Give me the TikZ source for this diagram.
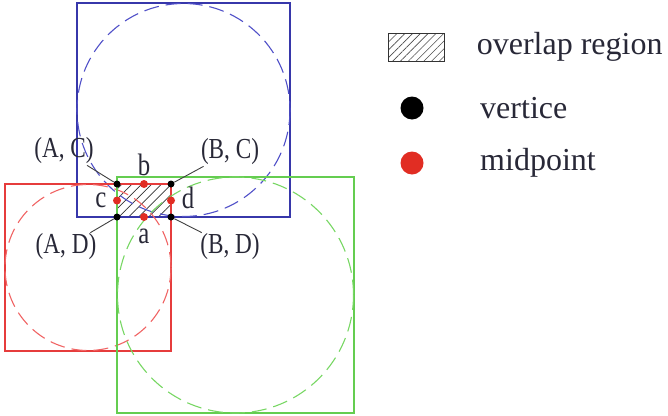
\documentclass[tikz,border=0pt]{standalone}
\usepackage{fontspec}
\setmainfont{Liberation Serif}
\newfontfamily\lblfont{Liberation Serif}[FakeStretch=0.8]
\usetikzlibrary{positioning,patterns.meta}
\definecolor{sqblue}{RGB}{55,55,170}
\definecolor{ringblue}{RGB}{80,80,200}
\definecolor{sqred}{RGB}{230,60,60}
\definecolor{ringred}{RGB}{240,100,100}
\definecolor{sqgreen}{RGB}{100,205,80}
\definecolor{ringgreen}{RGB}{120,215,100}
\definecolor{ptred}{RGB}{225,45,35}
\definecolor{lbltext}{RGB}{40,40,55}

\begin{document}
\begin{tikzpicture}[
    x=1pt, y=-1pt,
    frame/.style={line width=1.1pt},
    ring/.style={line width=1.1pt, dash pattern=on 15pt off 7pt},
    hatch/.style={
        pattern={Lines[angle=45, distance=7pt, line width=0.7pt]},
        pattern color=black!80
    },
    vertex/.style={
        circle,
        fill=black,
        inner sep=0pt,
        minimum size=7pt
    },
    midpt/.style={
        circle,
        fill=ptred,
        inner sep=0pt,
        minimum size=8pt
    },
    pairlbl/.style={font=\lblfont\fontsize{29}{31}\selectfont, text=lbltext, inner sep=1pt},
    ptlbl/.style={font=\lblfont\fontsize{31}{33}\selectfont, text=lbltext, inner sep=1pt},
    leader/.style={draw=black!75, line width=0.9pt},
    legtext/.style={font=\fontsize{32}{34}\selectfont, text=lbltext}
]
\useasboundingbox (0,0) rectangle (668,415);

% overlap region
\fill[hatch] (117,184) rectangle (171,217);

% squares and inscribed circles
\draw[frame, sqblue] (77,3) rectangle (290,217);
\draw[ring, ringblue] (183.5,110) circle[radius=106.5];
\draw[frame, sqred] (5,184) rectangle (171,351);
\draw[ring, ringred] (88,267.5) circle[radius=83];
\draw[frame, sqgreen] (117,177) rectangle (354,413);
\draw[ring, ringgreen] (235.5,295) circle[radius=118];

% vertices and midpoints
\node[vertex] (AC) at (117,184) {};
\node[vertex] (BC) at (171,184) {};
\node[vertex] (AD) at (117,217) {};
\node[vertex] (BD) at (171,217) {};
\node[midpt] (ma) at (144,217) {};
\node[midpt] (mb) at (144,184) {};
\node[midpt] (mc) at (117,200.5) {};
\node[midpt] (md) at (171,200.5) {};

\node[ptlbl] (la) at (144,236) {a};
\node[ptlbl] (lb) at (144,165) {b};
\node[ptlbl] (lc) at (101,200) {c};
\node[ptlbl] (ld) at (188,198) {d};

\node[pairlbl] (lAC) at (64,151) {(A, C)};
\node[pairlbl] (lBC) at (230,152) {(B, C)};
\node[pairlbl] (lAD) at (66,247) {(A, D)};
\node[pairlbl] (lBD) at (230,247) {(B, D)};

\draw[leader] (AC) -- (lAC);
\draw[leader] (BC) -- (lBC);
\draw[leader] (AD) -- (lAD);
\draw[leader] (BD) -- (lBD);

% legend
\node[draw=black!80, line width=0.8pt, inner sep=0pt,
      pattern={Lines[angle=45, distance=5.5pt, line width=0.6pt]}, pattern color=black!70,
      minimum width=56pt, minimum height=28pt] (legbox) at (416,47) {};
\node[legtext, right=29pt of legbox] (legboxtxt) {overlap region};
\node[vertex, minimum size=23pt] (legv) at (412,108) {};
\node[legtext, right=53pt of legv] (legvtxt) {vertice};
\node[midpt, minimum size=23pt] (legm) at (412,163) {};
\node[legtext, right=53pt of legm] (legmtxt) {midpoint};

\end{tikzpicture}
\end{document}
